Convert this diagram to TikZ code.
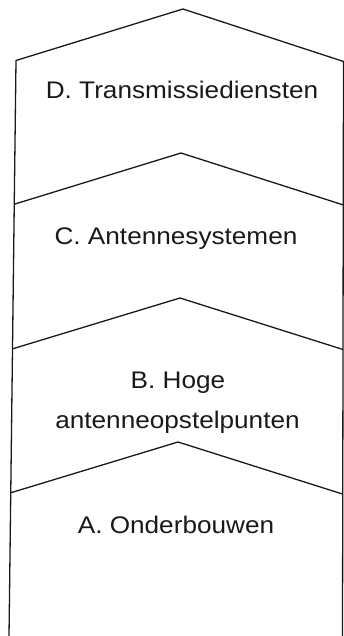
\documentclass[tikz,border=0pt]{standalone}
\usepackage{fontspec}
\setmainfont{Liberation Sans}
\begin{document}
\begin{tikzpicture}[x=1pt,y=-1pt,
  outline/.style={line width=1.3pt,line join=miter,black!90},
  lab/.style={anchor=base,inner sep=0pt,font=\fontsize{24}{28}\selectfont,text=black!90}]
\useasboundingbox (0,0) rectangle (344,636);
% outline and chevrons
\draw[outline] (9,637) -- (16,60.5) -- (183,9) -- (343.5,61.5) -- (342.5,637);
\draw[outline] (15,204) -- (181,153) -- (343.5,205);
\draw[outline] (12,349) -- (180,298) -- (343,349.5);
\draw[outline] (10,493) -- (178,442) -- (342.5,494);
% labels
\node[lab] (labD) at (182,99) {\scalebox{1.09}[1]{D. Transmissiediensten}};
\node[lab] (labC) at (176,244) {\scalebox{1.09}[1]{C. Antennesystemen}};
\node[lab] (labBa) at (178,388) {\scalebox{1.09}[1]{B. Hoge}};
\node[lab] (labBb) at (177.5,428) {\scalebox{1.09}[1]{antenneopstelpunten}};
\node[lab] (labA) at (176,533) {\scalebox{1.09}[1]{A. Onderbouwen}};
\end{tikzpicture}
\end{document}
